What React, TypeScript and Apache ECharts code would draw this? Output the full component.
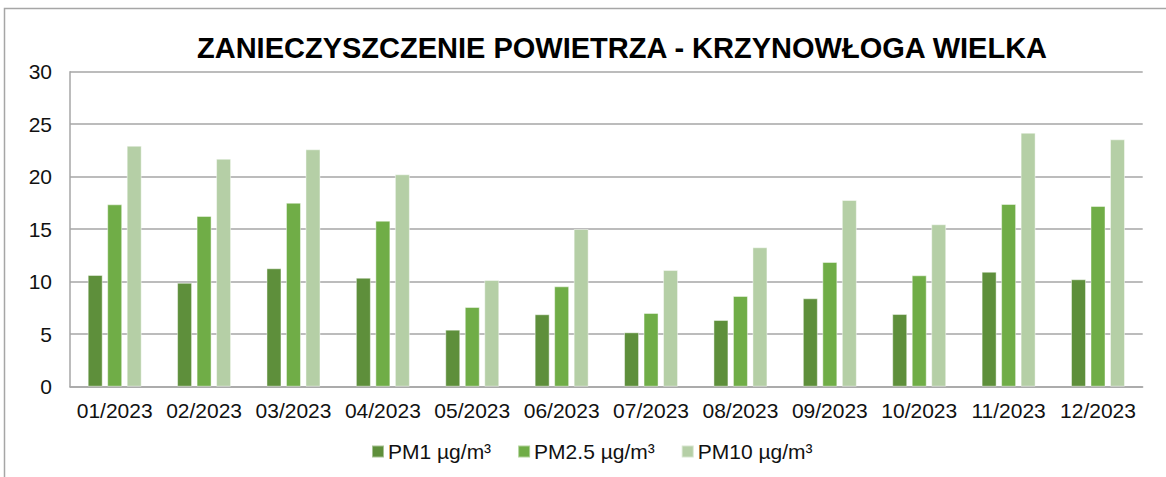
import React, { useEffect, useRef } from "react";
import * as echarts from "echarts";

const categories = [
  "01/2023", "02/2023", "03/2023", "04/2023", "05/2023", "06/2023",
  "07/2023", "08/2023", "09/2023", "10/2023", "11/2023", "12/2023",
];
const pm1 = [10.64, 9.9, 11.28, 10.38, 5.43, 6.9, 5.18, 6.35, 8.42, 6.92, 10.95, 10.23];
const pm25 = [17.37, 16.26, 17.52, 15.81, 7.59, 9.56, 7.02, 8.64, 11.88, 10.61, 17.4, 17.21];
const pm10 = [22.95, 21.71, 22.61, 20.23, 10.16, 15.02, 11.11, 13.28, 17.78, 15.47, 24.19, 23.56];
const seriesNames = ["PM1 µg/m³", "PM2.5 µg/m³", "PM10 µg/m³"];
const titleText = "ZANIECZYSZCZENIE POWIETRZA - KRZYNOWŁOGA WIELKA";

const FONT = "'Liberation Sans', Arial, sans-serif";
const colors = ["#5E8F3B", "#70AD47", "#B5CFA6"];

export default function App() {
  const ref = useRef<HTMLDivElement>(null);
  useEffect(() => {
    if (!ref.current) return;
    const chart = echarts.init(ref.current, null, { renderer: "svg" });
    const mk = (name: string, data: number[], color: string) => ({
      name,
      type: "bar",
      data,
      barWidth: 15,
      barGap: "30%",
      itemStyle: { color, borderColor: "rgba(255,255,255,0.45)", borderWidth: 1 },
    });
    chart.setOption({
      animation: false,
      backgroundColor: "#ffffff",
      textStyle: { fontFamily: FONT },
      title: {
        text: titleText,
        left: 617,
        textAlign: "center",
        top: 28,
        textStyle: { fontFamily: FONT, fontSize: 29, fontWeight: "bold", color: "#000" },
      },
      legend: {
        left: 366,
        top: 436,
        itemWidth: 12,
        itemHeight: 12,
        itemGap: 26,
        icon: "rect",
        textStyle: { fontFamily: FONT, fontSize: 21, color: "#111", padding: [0, 0, 0, -1] },
        data: seriesNames,
      },
      grid: { left: 70, right: 23.3, top: 71.7, bottom: 90.3, containLabel: false },
      xAxis: {
        type: "category",
        data: categories,
        axisLine: { show: true, lineStyle: { color: "#A6A6A6", width: 1.5 } },
        axisTick: { show: false },
        axisLabel: { fontFamily: FONT, fontSize: 21, color: "#111", margin: 13, interval: 0 },
      },
      yAxis: {
        type: "value",
        min: 0,
        max: 30,
        interval: 5,
        axisLine: { show: true, lineStyle: { color: "#A6A6A6", width: 1.5 } },
        axisTick: { show: false },
        axisLabel: { fontFamily: FONT, fontSize: 21, color: "#111", margin: 18 },
        splitLine: { show: true, lineStyle: { color: "#A6A6A6", width: 1.5 } },
      },
      graphic: [
        {
          type: "rect",
          shape: { x: 4.5, y: 8.5, width: 1300, height: 600 },
          style: { fill: "none", stroke: "#A6A6A6", lineWidth: 1.5 },
          silent: true,
          z: -1,
        },
      ],
      series: [
        mk(seriesNames[0], pm1, colors[0]),
        mk(seriesNames[1], pm25, colors[1]),
        mk(seriesNames[2], pm10, colors[2]),
      ],
    });
    return () => chart.dispose();
  }, []);
  return (
    <div
      ref={ref}
      style={{ position: "fixed", left: 0, top: 0, width: 1166, height: 477 }}
    />
  );
}
